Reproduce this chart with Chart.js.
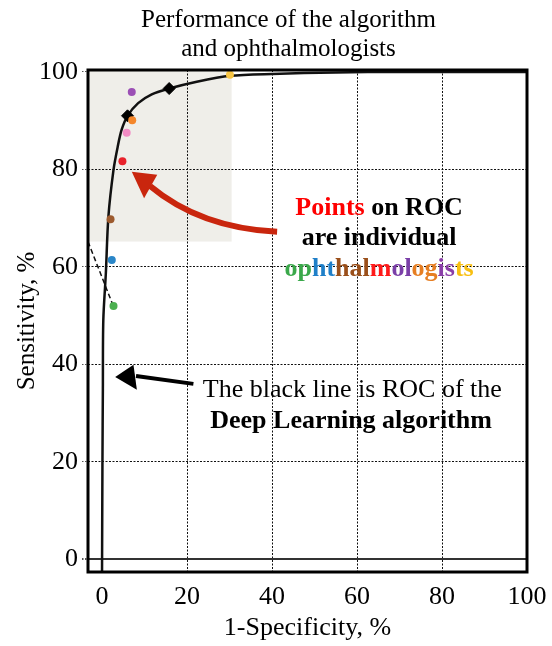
<!DOCTYPE html>
<html>
<head>
<meta charset="utf-8">
<title>ROC - algorithm vs ophthalmologists</title>
<script src="https://cdn.jsdelivr.net/npm/chart.js@4.4.1/dist/chart.umd.min.js"></script>
<style>
  html, body { margin: 0; padding: 0; background: #fff; }
  canvas { display: block; }
</style>
</head>
<body>
<canvas id="rocChart" width="552" height="646"></canvas>
<script>
// ROC curve of the deep learning algorithm (1-specificity, sensitivity)
const rocX = [0, 0.1, 0.2, 0.3, 0.9, 1.5, 2.7, 3.7, 4.6, 6.0, 8.5, 11.7, 15.8, 22.3, 30.1, 40, 55, 70, 100];
const rocY = [-2.6, 20, 35, 49, 58.7, 70.3, 79.9, 84.7, 88.1, 91.0, 93.6, 95.4, 96.6, 98.0, 99.2, 99.6, 99.9, 100, 100];

// operating points marked with diamonds
const diamondX = [6.0, 15.8];
const diamondY = [91.0, 96.6];

// individual ophthalmologists
const doctorX = [7.0, 7.1, 5.8, 4.8, 2.0, 2.3, 2.7, 30.1];
const doctorY = [95.9, 90.1, 87.5, 81.7, 69.8, 61.4, 52.0, 99.4];
const doctorColors = ['#9b4fb5', '#f4862a', '#f28bc4', '#e8222b', '#9c5a2e', '#2a86c8', '#4cb050', '#f7c544'];

// dashed segment on the left
const dashX = [-3.3, 2.5];
const dashY = [65.2, 52.3];

// axes
const xTicks = [0, 20, 40, 60, 80, 100];
const yTicks = [0, 20, 40, 60, 80, 100];
const xRange = [-3.3, 100];
const yRange = [-2.6, 100.4];

// shaded box: x from, x to, y from, y to
const shadeBox = [-3.3, 30.5, 65.2, 100.4];

const SERIF = "'Liberation Serif', 'Times New Roman', serif";

const toXY = (xs, ys) => xs.map((x, i) => ({ x: x, y: ys[i] }));

/**
 * Background box, frame, arrows and texts
 */
const decorPlugin = {
    id: 'decor',
    beforeDraw(chart) {
        const { ctx, scales: { x, y } } = chart;
        const x0 = x.getPixelForValue(shadeBox[0]);
        const x1 = x.getPixelForValue(shadeBox[1]);
        const y0 = y.getPixelForValue(shadeBox[2]);
        const y1 = y.getPixelForValue(shadeBox[3]);
        ctx.save();
        ctx.fillStyle = '#efeee9';
        ctx.fillRect(x0, y1, x1 - x0, y0 - y1);
        ctx.restore();
    },
    afterDraw(chart) {
        const { ctx, chartArea: a, scales: { x, y } } = chart;
        const P = (vx, vy) => [x.getPixelForValue(vx), y.getPixelForValue(vy)];

        ctx.save();

        // 1. thick frame
        ctx.strokeStyle = '#000';
        ctx.lineWidth = 3;
        ctx.strokeRect(a.left, a.top, a.right - a.left, a.bottom - a.top);

        // 2. red arrow
        const red = '#c9260e';
        let s = P(11.3, 76.6), c = P(23.1, 68.0), e = P(41.2, 67.2);
        ctx.strokeStyle = red;
        ctx.lineWidth = 6;
        ctx.beginPath();
        ctx.moveTo(s[0], s[1]);
        ctx.quadraticCurveTo(c[0], c[1], e[0], e[1]);
        ctx.stroke();
        let t = P(7.0, 79.5), w1 = P(13.0, 78.9), w2 = P(9.9, 74.1);
        ctx.fillStyle = red;
        ctx.beginPath();
        ctx.moveTo(t[0], t[1]); ctx.lineTo(w1[0], w1[1]); ctx.lineTo(w2[0], w2[1]);
        ctx.closePath();
        ctx.fill();

        // 3. black arrow
        s = P(8.0, 37.6); e = P(21.5, 36.0);
        ctx.strokeStyle = '#000';
        ctx.lineWidth = 4;
        ctx.beginPath();
        ctx.moveTo(s[0], s[1]); ctx.lineTo(e[0], e[1]);
        ctx.stroke();
        t = P(3.1, 37.4); w1 = P(7.4, 39.9); w2 = P(8.2, 34.8);
        ctx.fillStyle = '#000';
        ctx.beginPath();
        ctx.moveTo(t[0], t[1]); ctx.lineTo(w1[0], w1[1]); ctx.lineTo(w2[0], w2[1]);
        ctx.closePath();
        ctx.fill();

        // 4. title
        ctx.font = '25px ' + SERIF;
        ctx.fillStyle = '#000';
        ctx.textAlign = 'center';
        ctx.textBaseline = 'alphabetic';
        const tx = (a.left + a.right) / 2 - 19;
        ctx.fillText('Performance of the algorithm', tx, a.top - 43);
        ctx.fillText('and ophthalmologists', tx, a.top - 14);

        // 5. annotation texts
        const runs = (list, vx, vy) => {
            const p = P(vx, vy);
            const total = list.reduce((wd, r) => wd + ctx.measureText(r[0]).width, 0);
            let cx = p[0] - total / 2;
            ctx.textAlign = 'left';
            list.forEach(([txt, col]) => {
                ctx.fillStyle = col;
                ctx.fillText(txt, cx, p[1]);
                cx += ctx.measureText(txt).width;
            });
        };
        ctx.font = 'bold 26px ' + SERIF;
        runs([['Points', '#ff0000'], [' on ROC', '#000']], 65.2, 70.6);
        runs([['are individual', '#000']], 65.2, 64.4);
        runs([
            ['op', '#3aa84a'], ['ht', '#1f7fc8'], ['hal', '#9a4f1a'], ['m', '#ff1a1a'],
            ['ol', '#7b3fa8'], ['og', '#e67e22'], ['is', '#8a3fa8'], ['ts', '#f8bf10']
        ], 65.2, 58.1);

        ctx.font = '26px ' + SERIF;
        runs([['The black line is ROC of the', '#000']], 58.9, 33.4);
        ctx.font = 'bold 26px ' + SERIF;
        runs([['Deep Learning algorithm', '#000']], 58.6, 26.9);

        ctx.restore();
    }
};

const gridColor = (ctx, zeroColor) => {
    const v = ctx.tick ? ctx.tick.value : null;
    if (v === 0) return zeroColor;
    if (v === 100) return 'rgba(0,0,0,0)';
    return '#111';
};

new Chart(document.getElementById('rocChart'), {
    type: 'scatter',
    data: {
        datasets: [
            {
                label: 'Ophthalmologists',
                data: toXY(doctorX, doctorY),
                backgroundColor: doctorColors,
                borderWidth: 0,
                pointRadius: 4
            },
            {
                label: 'Operating points',
                data: toXY(diamondX, diamondY),
                pointStyle: 'rectRot',
                backgroundColor: '#000',
                borderColor: '#000',
                pointRadius: 6
            },
            {
                label: 'Deep Learning ROC',
                data: toXY(rocX, rocY),
                showLine: true,
                borderColor: '#111',
                borderWidth: 2.5,
                pointRadius: 0,
                tension: 0.3,
                fill: false
            },
            {
                label: 'Dashed',
                data: toXY(dashX, dashY),
                showLine: true,
                borderColor: '#111',
                borderWidth: 1.5,
                borderDash: [5, 3],
                pointRadius: 0
            }
        ]
    },
    options: {
        responsive: false,
        animation: false,
        devicePixelRatio: 1,
        layout: { padding: { top: 70, right: 25, bottom: 0, left: 0 } },
        plugins: {
            legend: { display: false },
            tooltip: { enabled: false }
        },
        scales: {
            x: {
                type: 'linear',
                min: xRange[0],
                max: xRange[1],
                afterBuildTicks: (s) => { s.ticks = xTicks.map(v => ({ value: v })); },
                afterFit: (s) => { s.height = 74; s.paddingLeft = 0; s.paddingRight = 0; },
                border: { display: false, dash: (ctx) => (ctx.tick && ctx.tick.value === 0 ? [] : [2, 1.5]) },
                grid: {
                    color: (ctx) => gridColor(ctx, 'rgba(0,0,0,0)'),
                    lineWidth: 1,
                    drawTicks: false
                },
                ticks: {
                    color: '#000',
                    padding: 10,
                    maxRotation: 0,
                    font: { family: SERIF, size: 26 },
                    callback: (v) => String(v)
                },
                title: {
                    display: true,
                    text: '1-Specificity, %',
                    color: '#000',
                    font: { family: SERIF, size: 26 },
                    padding: { top: 0, bottom: 2 }
                }
            },
            y: {
                type: 'linear',
                min: yRange[0],
                max: yRange[1],
                afterBuildTicks: (s) => { s.ticks = yTicks.map(v => ({ value: v })); },
                afterFit: (s) => { s.width = 88; s.paddingTop = 0; s.paddingBottom = 0; },
                border: { display: false, dash: (ctx) => (ctx.tick && ctx.tick.value === 0 ? [] : [2, 1.5]) },
                grid: {
                    color: (ctx) => gridColor(ctx, '#333'),
                    lineWidth: (ctx) => (ctx.tick && ctx.tick.value === 0 ? 2 : 1),
                    drawTicks: true,
                    tickLength: 6,
                    tickColor: '#555',
                    tickBorderDash: [1.5, 1.5]
                },
                ticks: {
                    color: '#000',
                    padding: 4,
                    font: { family: SERIF, size: 26 },
                    callback: (v) => String(v)
                },
                title: {
                    display: true,
                    text: 'Sensitivity, %',
                    color: '#000',
                    font: { family: SERIF, size: 25 },
                    padding: { top: 12, bottom: 0 }
                }
            }
        }
    },
    plugins: [decorPlugin]
});
</script>
</body>
</html>
